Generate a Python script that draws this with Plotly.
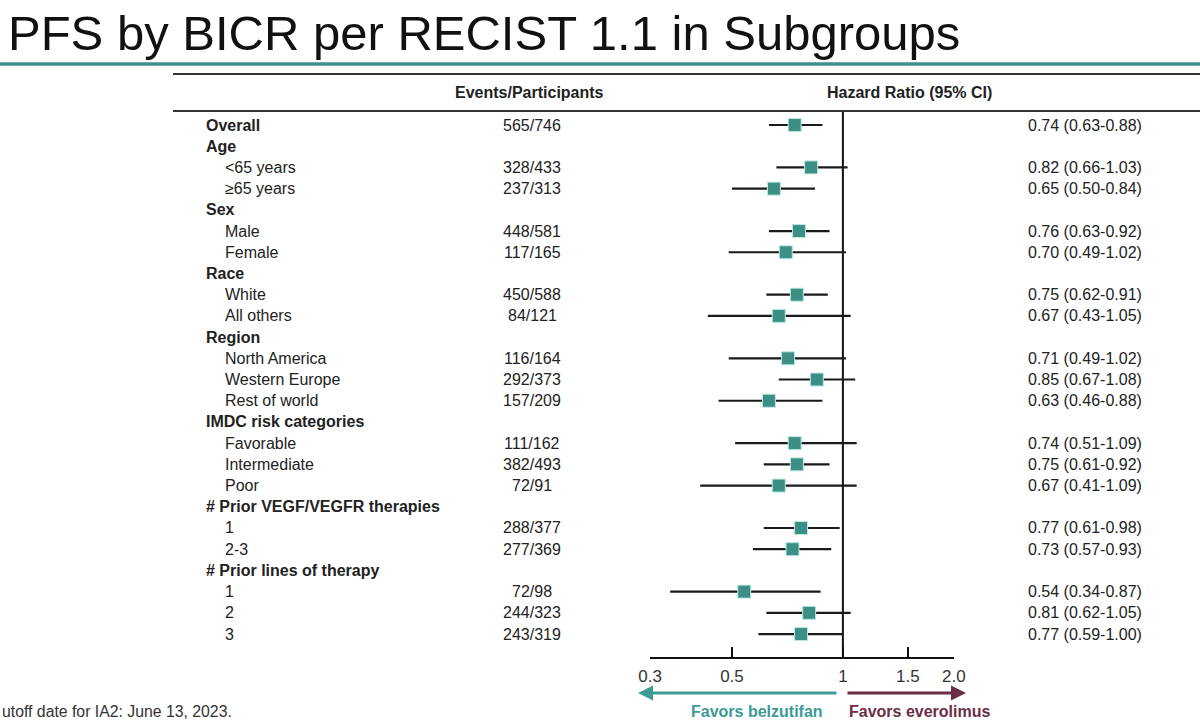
import math
import plotly.graph_objects as go

# ---------------- data ----------------
labels = ["Overall", "Age", "<65 years", "≥65 years", "Sex", "Male", "Female",
          "Race", "White", "All others", "Region", "North America", "Western Europe",
          "Rest of world", "IMDC risk categories", "Favorable", "Intermediate", "Poor",
          "# Prior VEGF/VEGFR therapies", "1", "2-3", "# Prior lines of therapy",
          "1", "2", "3"]
bold_rows = ["Overall", "Age", "Sex", "Race", "Region", "IMDC risk categories",
             "# Prior VEGF/VEGFR therapies", "# Prior lines of therapy"]
events = ["565/746", "", "328/433", "237/313", "", "448/581", "117/165",
          "", "450/588", "84/121", "", "116/164", "292/373",
          "157/209", "", "111/162", "382/493", "72/91",
          "", "288/377", "277/369", "",
          "72/98", "244/323", "243/319"]
hr = [0.74, None, 0.82, 0.65, None, 0.76, 0.70,
      None, 0.75, 0.67, None, 0.71, 0.85,
      0.63, None, 0.74, 0.75, 0.67,
      None, 0.77, 0.73, None,
      0.54, 0.81, 0.77]
ci_low = [0.63, None, 0.66, 0.50, None, 0.63, 0.49,
          None, 0.62, 0.43, None, 0.49, 0.67,
          0.46, None, 0.51, 0.61, 0.41,
          None, 0.61, 0.57, None,
          0.34, 0.62, 0.59]
ci_high = [0.88, None, 1.03, 0.84, None, 0.92, 1.02,
           None, 0.91, 1.05, None, 1.02, 1.08,
           0.88, None, 1.09, 0.92, 1.09,
           None, 0.98, 0.93, None,
           0.87, 1.05, 1.00]
tick_vals = [0.3, 0.5, 1, 1.5, 2.0]
tick_text = ["0.3", "0.5", "1", "1.5", "2.0"]

title_text = "PFS by BICR per RECIST 1.1 in Subgroups"
footnote = "utoff date for IA2: June 13, 2023."

# ---------------- layout geometry ----------------
W, H = 1200, 724
L, R, T, B = 650, 246, 111, 67
PW, PH = W - L - R, H - T - B
ROW0, ROWH = 125, 21.21


def px(xp):
    return (xp - L) / PW


def py(yp):
    return (H - B - yp) / PH


FONT = "Liberation Sans, Arial, Helvetica, sans-serif"
TXT = "#222222"
TEAL = "#3d9a95"
MAROON = "#6b2c47"

idx = [i for i, v in enumerate(hr) if v is not None]
xs = [hr[i] for i in idx]
ys = [i for i in idx]
err_p = [ci_high[i] - hr[i] for i in idx]
err_m = [hr[i] - ci_low[i] for i in idx]

fig = go.Figure()
fig.add_trace(go.Scatter(
    x=xs, y=ys, mode="markers",
    marker=dict(symbol="square", size=13, color="#3d8f86",
                line=dict(width=1, color="#b8ebe4")),
    error_x=dict(type="data", symmetric=False, array=err_p, arrayminus=err_m,
                 thickness=2.2, width=0, color="#1a1a1a"),
    showlegend=False, hoverinfo="skip", cliponaxis=False,
))

annotations = []
# title
annotations.append(dict(x=px(6), y=py(33), xref="paper", yref="paper", text=title_text,
                        showarrow=False, xanchor="left", yanchor="middle",
                        font=dict(family=FONT, size=49, color="#111111")))
# headers
annotations.append(dict(x=px(529), y=py(93), xref="paper", yref="paper",
                        text="<b>Events/Participants</b>", showarrow=False,
                        xanchor="center", yanchor="middle",
                        font=dict(family=FONT, size=16, color=TXT)))
annotations.append(dict(x=px(909), y=py(93), xref="paper", yref="paper",
                        text="<b>Hazard Ratio (95% CI)</b>", showarrow=False,
                        xanchor="center", yanchor="middle",
                        font=dict(family=FONT, size=16, color=TXT)))
# rows
for i, lab in enumerate(labels):
    is_bold = lab in bold_rows
    annotations.append(dict(
        x=px(204 if is_bold else 223), y=i, xref="paper", yref="y",
        text=f"<b>{lab}</b>" if is_bold else lab, showarrow=False,
        xanchor="left", yanchor="middle",
        font=dict(family=FONT, size=16, color=TXT)))
    if events[i]:
        annotations.append(dict(
            x=px(532), y=i, xref="paper", yref="y", text=events[i], showarrow=False,
            xanchor="center", yanchor="middle",
            font=dict(family=FONT, size=16, color=TXT)))
    if hr[i] is not None:
        annotations.append(dict(
            x=px(1026), y=i, xref="paper", yref="y",
            text=f"{hr[i]:.2f} ({ci_low[i]:.2f}-{ci_high[i]:.2f})", showarrow=False,
            xanchor="left", yanchor="middle",
            font=dict(family=FONT, size=16, color=TXT)))

# arrows
annotations.append(dict(x=px(638), y=py(693), xref="paper", yref="paper", text="",
                        showarrow=True, ax=200, ay=0, arrowhead=2, arrowsize=1,
                        arrowwidth=3, arrowcolor=TEAL))
annotations.append(dict(x=px(966), y=py(693), xref="paper", yref="paper", text="",
                        showarrow=True, ax=-120, ay=0, arrowhead=2, arrowsize=1,
                        arrowwidth=3, arrowcolor=MAROON))
annotations.append(dict(x=px(757), y=py(711), xref="paper", yref="paper",
                        text="<b>Favors belzutifan</b>", showarrow=False,
                        xanchor="center", yanchor="middle",
                        font=dict(family=FONT, size=16, color=TEAL)))
annotations.append(dict(x=px(920), y=py(711), xref="paper", yref="paper",
                        text="<b>Favors everolimus</b>", showarrow=False,
                        xanchor="center", yanchor="middle",
                        font=dict(family=FONT, size=16, color=MAROON)))
# footnote
annotations.append(dict(x=px(0), y=py(711), xref="paper", yref="paper", text=footnote,
                        showarrow=False, xanchor="left", yanchor="middle",
                        font=dict(family=FONT, size=15.8, color="#333333")))

shapes = [
    # teal rule under title
    dict(type="line", xref="paper", yref="paper", x0=px(0), x1=px(1200),
         y0=py(64), y1=py(64), line=dict(color="#3f8f8c", width=3.5)),
    # table rules
    dict(type="line", xref="paper", yref="paper", x0=px(173), x1=px(1200),
         y0=py(74), y1=py(74), line=dict(color="#333333", width=2)),
    dict(type="line", xref="paper", yref="paper", x0=px(173), x1=px(1200),
         y0=py(111), y1=py(111), line=dict(color="#333333", width=2)),
    # reference line at HR = 1
    dict(type="line", xref="x", yref="paper", x0=1, x1=1, y0=0, y1=1,
         line=dict(color="#111111", width=2), layer="below"),
]

fig.update_layout(
    width=W, height=H,
    margin=dict(l=L, r=R, t=T, b=B, pad=0),
    paper_bgcolor="white", plot_bgcolor="white",
    annotations=annotations, shapes=shapes,
    xaxis=dict(type="log", range=[math.log10(0.3) - 0.0005, math.log10(2.0) + 0.0005],
               tickvals=tick_vals, ticktext=tick_text,
               showgrid=False, zeroline=False, showline=True,
               linecolor="#111111", linewidth=2,
               ticks="inside", ticklen=10, tickwidth=2, tickcolor="#111111",
               ticklabelstandoff=3,
               tickfont=dict(family=FONT, size=17, color="#333333"),
               fixedrange=True),
    yaxis=dict(range=[(H - B - ROW0) / ROWH, (T - ROW0) / ROWH], visible=False,
               fixedrange=True),
    font=dict(family=FONT),
)

fig.write_html("out.html")
